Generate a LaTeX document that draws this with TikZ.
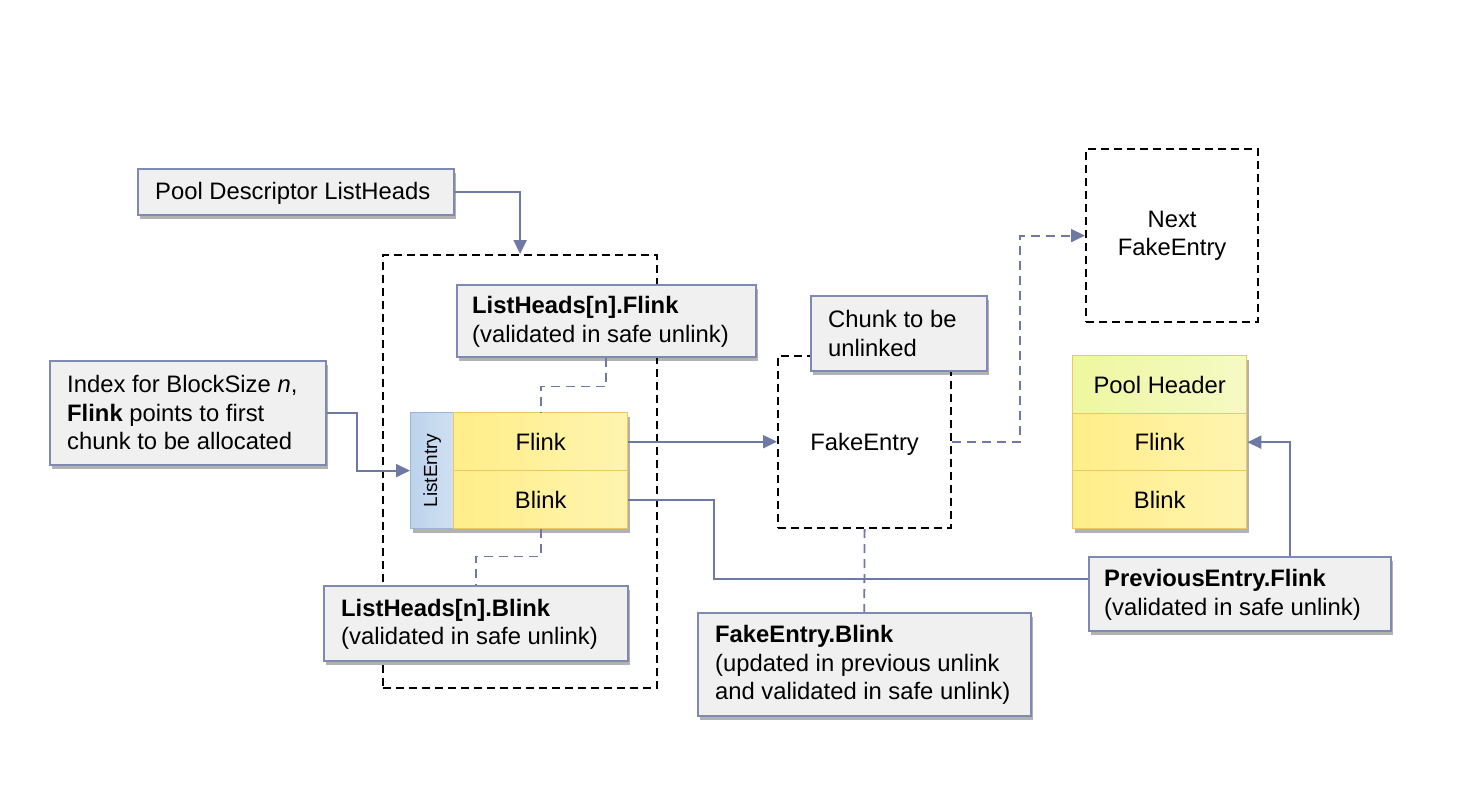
\documentclass[tikz,border=0pt]{standalone}
\usepackage{fontspec}
\setmainfont{Liberation Sans}
\usetikzlibrary{arrows.meta,shadows}
\definecolor{conn}{HTML}{6E7AA3}
\definecolor{cofill}{HTML}{F0F0F0}
\definecolor{coedge}{HTML}{7F8AB2}
\definecolor{yelA}{HTML}{FFEE88}
\definecolor{yelB}{HTML}{FFF4B0}
\definecolor{yedge}{HTML}{EDC95C}
\definecolor{blueA}{HTML}{BCD3EC}
\definecolor{blueB}{HTML}{D0E0F2}
\definecolor{bedge}{HTML}{97B6D8}
\definecolor{phA}{HTML}{EEF7A0}
\definecolor{phB}{HTML}{F5FAC4}
\begin{document}
\begin{tikzpicture}[x=1pt,y=-1pt,
  txt/.style={font=\fontsize{23.8}{28.5}\selectfont, inner sep=0pt},
  shadowed/.style={drop shadow={shadow xshift=2pt, shadow yshift=-4pt, opacity=0.3, fill=black}},
  cobox/.style={draw=coedge, line width=1.5pt, fill=cofill, anchor=north west, inner sep=0pt, shadowed},
  cotext/.style={txt, anchor=west, align=left},
  cell/.style={txt, anchor=north west, minimum width=174, shadowed},
  ycell/.style={cell, draw=yedge, line width=1.4pt, left color=yelA, right color=yelB},
  phcell/.style={cell, draw=yedge, line width=1.4pt, left color=phA, right color=phB},
  dbox/.style={draw=black, line width=2.2pt, dash pattern=on 8pt off 5pt, anchor=north west, inner sep=0pt},
  arr/.style={draw=conn, line width=2pt, -{Triangle[length=14pt,width=13pt]}},
  cline/.style={draw=conn, line width=2pt},
  dline/.style={draw=conn, line width=1.8pt, dash pattern=on 9pt off 6pt},
  darr/.style={dline, -{Triangle[length=14pt,width=13pt]}}
]
\useasboundingbox[fill=white] (0,0) rectangle (1470,787);

% dashed chunk boxes
\node[dbox, minimum width=274, minimum height=433] (lhbox) at (382,254) {};
\node[dbox, minimum width=173, minimum height=172] (fe) at (777,355) {};
\node[txt] (fetext) at ([yshift=-2pt]fe.center) {FakeEntry};
\node[dbox, minimum width=172, minimum height=173] (nfe) at (1085,148) {};
\node[txt, align=center] (nfetext) at (nfe.center) {Next\\FakeEntry};

% list entry
\node[anchor=north west, draw=bedge, line width=1.2pt, left color=blueA, right color=blueB,
      minimum width=43, minimum height=116, inner sep=0pt, shadowed] (le) at (410,412) {};
\node[rotate=90, font=\fontsize{19}{22}\selectfont, inner sep=0pt] (letext) at (le.center) {ListEntry};
\node[ycell, minimum height=58] (fl) at (453,412) {Flink};
\node[ycell, minimum height=58] (fb) at (453,470) {Blink};

% pool header
\node[phcell, minimum height=58] (ph) at (1072,355) {Pool Header};
\node[ycell, minimum height=57] (pf) at (1072,413) {Flink};
\node[ycell, minimum height=58] (pb) at (1072,470) {Blink};

% callouts
\node[cobox, minimum width=316, minimum height=46] (pd) at (137,168) {};
\node[cotext] (pdt) at ([xshift=18,yshift=-2pt]pd.west) {Pool Descriptor ListHeads};

\node[cobox, minimum width=299, minimum height=72] (lhf) at (456,284) {};
\node[cotext] (lhft) at ([xshift=16,yshift=-1pt]lhf.west) {\textbf{ListHeads[n].Flink}\\(validated in safe unlink)};

\node[cobox, minimum width=276, minimum height=104] (idx) at (49,360) {};
\node[cotext] (idxt) at ([xshift=18]idx.west) {Index for BlockSize \textit{n},\\\textbf{Flink} points to first\\chunk to be allocated};

\node[cobox, minimum width=304, minimum height=75] (lhb) at (323,585) {};
\node[cotext] (lhbt) at ([xshift=18,yshift=-1pt]lhb.west) {\textbf{ListHeads[n].Blink}\\(validated in safe unlink)};

\node[cobox, minimum width=176, minimum height=75] (chk) at (810,295) {};
\node[cotext] (chkt) at ([xshift=18]chk.west) {Chunk to be\\unlinked};

\node[cobox, minimum width=333, minimum height=103] (feb) at (697,612) {};
\node[cotext] (febt) at ([xshift=18,yshift=-1pt]feb.west) {\textbf{FakeEntry.Blink}\\(updated in previous unlink\\and validated in safe unlink)};

\node[cobox, minimum width=302, minimum height=74] (pef) at (1088,556) {};
\node[cotext] (peft) at ([xshift=16,yshift=-1pt]pef.west) {\textbf{PreviousEntry.Flink}\\(validated in safe unlink)};

% connectors
\draw[arr] (pd.east) -| (lhbox.north);
\draw[dline] (lhf.south) -- ++(0,29) -| (fl.north);
\draw[arr] (idx.east) -- ++(30,0) |- (le.west);
\draw[dline] (fb.south) -- ++(0,27) -| (lhb.north);
\draw[arr] (fl.east) -- (fl.east -| fe.west);
\draw[darr] (fe.east) -- ++(68,0) |- (nfe.west);
\draw[cline] (fb.east) -- ++(86,0) |- ([yshift=15pt]pef.west);
\draw[dline] (fe.south) -- (feb.north);
\draw[arr] ([xshift=50pt]pef.north) |- (pf.east);
\end{tikzpicture}
\end{document}
